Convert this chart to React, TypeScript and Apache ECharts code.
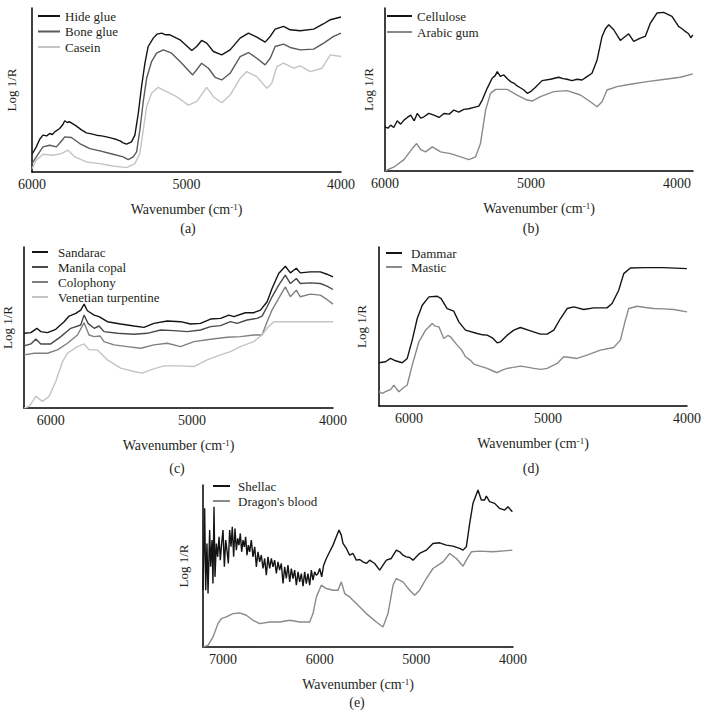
import React, { useEffect, useRef } from 'react';
import * as echarts from 'echarts';

// ---------- data: [wavenumber (cm-1), Log 1/R (arbitrary units)] ----------
const hideGlue = [[6000,53],[5972,75],[5950,98],[5929,110],[5905,108],[5885,115],[5868,112],[5853,120],[5821,130],[5800,142],[5788,153],[5772,148],[5756,150],[5712,137],[5680,126],[5648,117],[5615,114],[5583,110],[5550,108],[5518,105],[5485,101],[5453,97],[5430,93],[5410,87],[5388,83],[5356,90],[5334,110],[5312,175],[5291,255],[5269,325],[5248,375],[5215,400],[5190,412],[5161,415],[5135,410],[5107,410],[5042,395],[4966,363],[4934,375],[4902,393],[4869,385],[4826,360],[4772,350],[4718,365],[4653,400],[4599,415],[4545,403],[4491,388],[4458,405],[4426,427],[4372,435],[4329,425],[4264,422],[4177,427],[4112,443],[4069,455],[4000,463]];
const boneGlue = [[6000,25],[5972,45],[5929,75],[5885,80],[5842,75],[5810,92],[5788,105],[5745,103],[5691,85],[5626,70],[5561,63],[5475,53],[5410,45],[5377,37],[5345,45],[5323,60],[5302,125],[5280,210],[5258,280],[5226,330],[5194,355],[5150,365],[5096,355],[5031,325],[4960,290],[4902,325],[4858,310],[4815,283],[4772,275],[4718,295],[4653,345],[4599,357],[4545,340],[4491,320],[4458,340],[4426,375],[4372,382],[4329,372],[4264,365],[4177,367],[4112,385],[4048,405],[4000,415]];
const casein = [[6000,10],[5972,35],[5929,53],[5864,50],[5810,55],[5767,65],[5723,45],[5648,30],[5561,25],[5475,18],[5388,13],[5334,25],[5302,55],[5280,125],[5258,195],[5226,235],[5183,253],[5129,240],[5064,225],[4988,200],[4934,210],[4869,253],[4826,225],[4772,207],[4718,230],[4653,280],[4610,300],[4545,285],[4480,250],[4448,265],[4415,315],[4372,325],[4307,310],[4264,317],[4199,300],[4123,310],[4069,350],[4000,345]];

const cellulose = [[6000,132],[5980,128],[5961,137],[5940,130],[5916,150],[5893,140],[5870,152],[5847,160],[5824,167],[5800,150],[5779,172],[5755,158],[5733,162],[5700,172],[5665,167],[5630,160],[5596,172],[5560,170],[5528,182],[5495,176],[5460,184],[5425,186],[5391,190],[5357,194],[5334,212],[5300,247],[5266,277],[5245,285],[5231,297],[5210,283],[5186,287],[5160,275],[5140,267],[5115,262],[5095,254],[5070,248],[5049,242],[5025,232],[5003,237],[4969,250],[4924,270],[4867,274],[4810,280],[4780,276],[4753,274],[4720,270],[4684,274],[4650,272],[4616,282],[4582,292],[4547,332],[4513,402],[4490,425],[4467,437],[4433,422],[4388,390],[4331,410],[4296,387],[4251,397],[4217,402],[4182,442],[4137,472],[4091,474],[4034,462],[3989,432],[3965,425],[3943,417],[3920,410],[3905,398],[3891,407]];
const arabicGum = [[6000,0],[5938,12],[5870,34],[5813,67],[5783,82],[5756,64],[5722,57],[5676,72],[5619,57],[5551,52],[5482,42],[5425,34],[5380,42],[5346,82],[5311,182],[5277,232],[5243,244],[5163,244],[5095,227],[5026,212],[4992,209],[4935,222],[4844,237],[4753,240],[4661,227],[4593,207],[4547,192],[4513,207],[4479,242],[4411,252],[4319,259],[4205,267],[4068,275],[3977,280],[3891,290]];

const sandarac = [[6189,225],[6141,227],[6099,240],[6071,230],[6024,227],[5965,237],[5906,260],[5870,277],[5823,285],[5788,295],[5764,313],[5741,293],[5693,280],[5658,275],[5599,260],[5505,253],[5410,247],[5340,243],[5269,255],[5175,262],[5080,260],[5010,253],[4939,255],[4868,268],[4797,270],[4738,280],[4703,275],[4621,287],[4562,287],[4514,295],[4467,320],[4432,360],[4385,405],[4338,427],[4302,407],[4260,421],[4232,407],[4161,410],[4090,410],[4043,403],[4000,395]];
const manilaCopal = [[6189,187],[6141,193],[6106,208],[6071,193],[6000,193],[5929,215],[5859,240],[5788,250],[5764,280],[5736,255],[5693,240],[5658,247],[5623,230],[5528,225],[5410,222],[5316,225],[5222,235],[5128,233],[5033,230],[4939,235],[4868,245],[4797,248],[4727,260],[4680,255],[4609,265],[4538,270],[4503,277],[4467,305],[4432,335],[4385,370],[4338,400],[4302,375],[4260,390],[4232,375],[4161,377],[4090,375],[4043,367],[4000,357]];
const colophony = [[6189,160],[6118,165],[6024,165],[5953,175],[5882,195],[5811,220],[5764,257],[5729,220],[5693,215],[5651,217],[5623,200],[5552,190],[5458,185],[5363,180],[5269,190],[5175,195],[5080,185],[4986,200],[4868,207],[4750,213],[4656,215],[4562,220],[4503,220],[4467,260],[4432,295],[4385,330],[4338,365],[4302,335],[4260,355],[4232,335],[4161,343],[4090,340],[4043,327],[4000,313]];
const venetianTurpentine = [[6189,0],[6153,5],[6106,35],[6059,20],[6012,35],[5965,80],[5917,140],[5882,165],[5811,185],[5764,193],[5729,175],[5670,175],[5599,145],[5505,120],[5410,110],[5352,105],[5293,115],[5198,127],[5080,127],[4986,125],[4892,145],[4797,160],[4727,170],[4656,185],[4562,200],[4503,220],[4467,240],[4420,260],[4373,260],[4279,260],[4161,260],[4000,260]];

const dammar = [[6216,130],[6168,133],[6132,143],[6096,136],[6048,130],[6012,143],[5976,198],[5940,263],[5904,303],[5856,328],[5796,330],[5768,323],[5725,293],[5677,285],[5641,253],[5593,228],[5509,218],[5470,214],[5437,213],[5400,205],[5365,190],[5341,193],[5293,213],[5246,228],[5198,236],[5126,226],[5054,216],[5006,216],[4958,228],[4910,263],[4862,293],[4814,298],[4743,290],[4671,295],[4575,295],[4539,308],[4491,348],[4455,398],[4407,415],[4312,416],[4168,416],[4000,413]];
const mastic = [[6216,43],[6190,38],[6168,43],[6130,50],[6108,63],[6090,52],[6072,43],[6040,55],[6012,63],[5976,123],[5928,193],[5880,228],[5832,248],[5810,240],[5784,238],[5749,203],[5720,212],[5701,208],[5653,183],[5620,168],[5593,148],[5560,138],[5533,126],[5490,120],[5437,113],[5400,106],[5365,100],[5330,108],[5293,113],[5250,116],[5198,120],[5150,117],[5102,113],[5050,110],[5006,113],[4934,128],[4886,148],[4840,146],[4791,143],[4719,153],[4623,168],[4527,176],[4479,198],[4443,258],[4419,293],[4359,300],[4300,296],[4240,293],[4170,292],[4096,290],[4000,283]];

const shellac = [[7207,170],[7190,415],[7179,170],[7166,310],[7155,160],[7138,350],[7128,240],[7114,320],[7104,190],[7093,420],[7083,210],[7069,310],[7055,270],[7041,330],[7028,260],[7014,310],[7000,350],[6986,240],[6972,320],[6959,290],[6945,250],[6931,350],[6917,300],[6904,360],[6890,270],[6876,355],[6862,290],[6848,325],[6835,305],[6821,340],[6807,285],[6793,320],[6779,300],[6766,330],[6752,275],[6738,305],[6724,285],[6707,320],[6690,270],[6672,300],[6655,240],[6638,285],[6621,255],[6604,275],[6586,235],[6569,265],[6552,215],[6535,270],[6517,235],[6500,265],[6483,240],[6466,260],[6448,220],[6431,255],[6414,230],[6397,250],[6379,190],[6362,240],[6345,205],[6328,245],[6310,195],[6293,235],[6276,205],[6259,230],[6241,185],[6224,225],[6207,195],[6190,220],[6172,182],[6155,225],[6138,190],[6121,220],[6103,185],[6086,230],[6069,200],[6052,225],[6035,215],[6017,220],[6000,235],[5979,210],[5959,245],[5931,265],[5897,285],[5862,305],[5828,330],[5800,350],[5776,335],[5759,310],[5724,295],[5690,275],[5655,280],[5621,260],[5586,262],[5552,255],[5517,250],[5483,260],[5431,250],[5379,230],[5345,245],[5310,260],[5259,265],[5207,290],[5172,285],[5138,275],[5103,270],[5069,268],[5034,260],[5000,270],[4966,280],[4897,290],[4828,310],[4759,312],[4690,305],[4621,302],[4552,295],[4517,290],[4483,300],[4448,370],[4414,430],[4362,470],[4328,440],[4293,440],[4276,452],[4242,435],[4190,430],[4138,415],[4086,410],[4052,420],[4007,405]];
const dragonsBlood = [[7207,0],[7155,5],[7103,30],[7052,70],[7017,85],[6966,90],[6897,100],[6828,102],[6759,95],[6690,80],[6621,70],[6517,75],[6414,75],[6310,80],[6207,75],[6103,75],[6069,100],[6034,150],[5983,185],[5931,175],[5862,170],[5810,170],[5776,195],[5741,160],[5690,150],[5621,130],[5517,100],[5414,75],[5345,60],[5293,100],[5241,185],[5207,205],[5138,195],[5069,170],[5017,155],[4966,170],[4897,205],[4828,235],[4724,255],[4655,280],[4586,265],[4517,242],[4483,260],[4431,285],[4345,287],[4207,285],[4007,290]];

// axis ranges and tick labels
const xRanges = [[4000, 6000], [3890, 6000], [4000, 6190], [4000, 6215], [4000, 7207]];
const tickSets = [[4000, 5000, 6000], [4000, 5000, 6000], [4000, 5000, 6000], [4000, 5000, 6000], [4000, 5000, 6000, 7000]];
const yMaxes = [490, 487, 485, 478, 485];
const panelLetters = ['(a)', '(b)', '(c)', '(d)', '(e)'];

const FONT = 'Liberation Serif';
const TXT = '#231f20';

const grids = [
  { left: 32, top: 8, width: 309, height: 164 },
  { left: 385, top: 8, width: 308, height: 163 },
  { left: 23, top: 247, width: 310, height: 161 },
  { left: 379, top: 247, width: 308, height: 159 },
  { left: 203, top: 485, width: 310, height: 162 },
];
const yNameGaps = [14, 10, 10, 11, 13];
const letterPos = [[188, 228], [531, 228], [177, 468], [531, 468], [357, 702]];

const panels = [
  [['Hide glue', hideGlue, '#141414'], ['Bone glue', boneGlue, '#5a5a5a'], ['Casein', casein, '#c4c4c4']],
  [['Cellulose', cellulose, '#141414'], ['Arabic gum', arabicGum, '#8a8a8a']],
  [['Sandarac', sandarac, '#141414'], ['Manila copal', manilaCopal, '#4a4a4a'], ['Colophony', colophony, '#808080'], ['Venetian turpentine', venetianTurpentine, '#c4c4c4']],
  [['Dammar', dammar, '#141414'], ['Mastic', mastic, '#8a8a8a']],
  [['Shellac', shellac, '#141414'], ["Dragon's blood", dragonsBlood, '#8a8a8a']],
] as [string, number[][], string][][];

const legendLayout = [
  { left: 38, top: 9.5, itemWidth: 22, itemGap: 2.5, pad: 0 },
  { left: 387, top: 9.5, itemWidth: 25, itemGap: 3, pad: 0 },
  { left: 32, top: 245.5, itemWidth: 16, itemGap: 2, pad: 5 },
  { left: 386, top: 246.5, itemWidth: 16, itemGap: 1, pad: 4 },
  { left: 213, top: 479.5, itemWidth: 17, itemGap: 2, pad: 3 },
];

function buildOption() {
  const series: any[] = [];
  const legends: any[] = [];
  panels.forEach((p, i) => {
    p.forEach(([name, data, color]) => {
      series.push({
        type: 'line', name, data, xAxisIndex: i, yAxisIndex: i,
        showSymbol: false, symbol: 'none',
        itemStyle: { color },
        lineStyle: { color, width: 1.4 },
      });
    });
    const L = legendLayout[i];
    legends.push({
      orient: 'vertical', left: L.left, top: L.top, padding: 0,
      itemWidth: L.itemWidth, itemHeight: 2, itemGap: L.itemGap, icon: 'rect',
      data: p.map((s) => s[0]),
      selectedMode: false,
      textStyle: { fontFamily: FONT, fontSize: 13, color: TXT, lineHeight: 13, padding: [0, 0, 0, L.pad] },
    });
  });
  return {
    animation: false,
    backgroundColor: '#fff',
    grid: grids.map((g) => ({ ...g, containLabel: false })),
    xAxis: grids.map((_, i) => ({
      type: 'value', gridIndex: i, inverse: true,
      min: xRanges[i][0], max: xRanges[i][1],
      axisLine: { show: true, onZero: false, lineStyle: { color: '#000', width: 1.5 } },
      axisTick: { show: false },
      splitLine: { show: false },
      axisLabel: {
        customValues: tickSets[i], fontFamily: FONT, fontSize: 14, color: TXT, margin: 5,
        formatter: (v: number) => String(v),
      },
      name: 'Wavenumber (cm{sup|-1})',
      nameLocation: 'middle', nameGap: 30,
      nameTextStyle: {
        fontFamily: FONT, fontSize: 14, color: TXT,
        rich: { sup: { fontFamily: FONT, fontSize: 9, color: TXT, verticalAlign: 'top', lineHeight: 14 } },
      },
    })),
    yAxis: grids.map((_, i) => ({
      type: 'value', gridIndex: i, min: 0, max: yMaxes[i],
      axisLine: { show: true, lineStyle: { color: '#000', width: 1.5 } },
      axisTick: { show: false }, axisLabel: { show: false }, splitLine: { show: false },
      name: 'Log 1/R', nameLocation: 'middle', nameGap: yNameGaps[i],
      nameTextStyle: { fontFamily: FONT, fontSize: 13, color: TXT },
    })),
    legend: legends,
    series,
    graphic: panelLetters.map((t, i) => ({
      type: 'text', x: letterPos[i][0], y: letterPos[i][1],
      style: { text: t, fontFamily: FONT, fontSize: 14, fill: TXT, textAlign: 'center', textVerticalAlign: 'middle' },
    })),
  };
}

export default function App() {
  const ref = useRef<HTMLDivElement>(null);
  useEffect(() => {
    const chart = echarts.init(ref.current!, null, { renderer: 'svg' });
    chart.setOption(buildOption() as any);
    return () => chart.dispose();
  }, []);
  return <div ref={ref} style={{ position: 'absolute', left: 0, top: 0, width: 707, height: 727, background: '#fff' }} />;
}
